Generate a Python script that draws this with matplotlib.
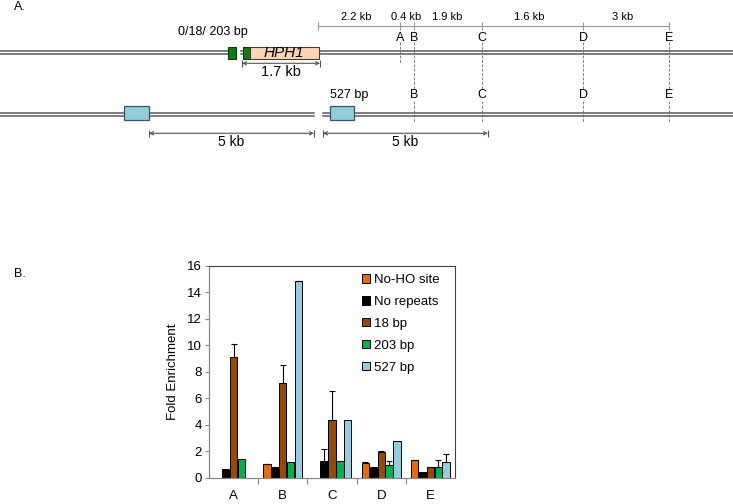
import numpy as np
import matplotlib.pyplot as plt
from matplotlib.patches import Rectangle, Patch

plt.rcParams['font.family'] = ['Liberation Sans', 'DejaVu Sans']

# ── DATA (panel B) ────────────────────────────────────────────
sites  = ["A", "B", "C", "D", "E"]
series = ["No-HO site", "No repeats", "18 bp", "203 bp", "527 bp"]
colors = ["#E46C0A", "#000000", "#984807", "#00B050", "#93CDDD"]
nan = np.nan
no_ho   = [nan, 1.00, nan, 1.13, 1.30]
no_rep  = [0.65, 0.80, 1.26, 0.80, 0.40]
bp18    = [9.10, 7.14, 4.35, 1.94, 0.78]
bp203   = [1.38, 1.18, 1.25, 0.96, 0.80]
bp527   = [nan, 14.85, 4.35, 2.74, 1.18]
err_no_ho  = [0, 0.06, 0, 0.04, 0.03]
err_no_rep = [0, 0, 0.88, 0, 0]
err_18     = [1.00, 1.36, 2.20, 0.10, 0.03]
err_203    = [0, 0, 0, 0.30, 0.55]
err_527    = [0, 0.03, 0, 0, 0.58]

values = [no_ho, no_rep, bp18, bp203, bp527]
errors = [err_no_ho, err_no_rep, err_18, err_203, err_527]

# ── DATA (panel A schematic, pixel layout) ────────────────────
scale_ticks  = [318, 400, 414, 482, 583, 669]
scale_labels = ["2.2 kb", "0.4 kb", "1.9 kb", "1.6 kb", "3 kb"]
scale_lab_x  = [356, 406, 447, 529, 623]
site_x       = [400, 414, 482, 583, 669]

fig = plt.figure(figsize=(7.33, 5.04), dpi=100)

# ── PANEL A ───────────────────────────────────────────────────
sk = fig.add_axes([0, 0, 1, 1])
sk.set_xlim(0, 733)
sk.set_ylim(504, 0)
sk.axis("off")

LINE = "#5a5a5a"
DASH = "#808080"
y1, y2 = 52.7, 114.3


def chrom(x0, x1, y):
    sk.plot([x0, x1], [y - 1.6, y - 1.6], color=LINE, lw=1.1, zorder=2)
    sk.plot([x0, x1], [y + 1.6, y + 1.6], color=LINE, lw=1.1, zorder=2)


def dim_arrow(x0, x1, y, label, ly, fs=10):
    sk.annotate("", xy=(x0, y), xytext=(x1, y),
                arrowprops=dict(arrowstyle="<->", color="#555555", lw=0.8,
                                shrinkA=0, shrinkB=0, mutation_scale=6))
    sk.vlines([x0, x1], y - 3.5, y + 3.5, color="#555555", lw=0.8)
    sk.text((x0 + x1) / 2, ly, label, ha="center", va="center", fontsize=fs)


sk.text(20, 7, "A.", ha="center", va="center", fontsize=9)
sk.text(20, 274, "B.", ha="center", va="center", fontsize=9)

# scale bar
sk.plot([scale_ticks[0], scale_ticks[-1]], [25.7, 25.7], color="#999999", lw=0.8)
sk.vlines(scale_ticks, 22, 30, color="#999999", lw=0.8)
for lab, x in zip(scale_labels, scale_lab_x):
    sk.text(x, 16.7, lab, ha="center", va="center", fontsize=8)

# row 1
chrom(0, 733, y1)
sk.add_patch(Rectangle((236.5, y1 - 3), 2.5, 6, color="white", zorder=3))
sk.add_patch(Rectangle((228, 47.3), 8, 12, fc="#117A1A", ec="#0b3d0b", lw=0.8, zorder=4))
sk.add_patch(Rectangle((242.5, 47.3), 7, 12, fc="#117A1A", ec="#0b3d0b", lw=0.8, zorder=4))
sk.add_patch(Rectangle((249.5, 47.3), 69.5, 12, fc="#FCD5B4", ec="#4a3a30", lw=0.8, zorder=4))
sk.text(284, 53, "HPH1", ha="center", va="center", fontsize=11, style="italic", zorder=5)
sk.text(213, 32, "0/18/ 203 bp", ha="center", va="center", fontsize=9)
dim_arrow(242, 320, 63.3, "1.7 kb", 71.7, fs=10.5)

for s, x in zip(sites, site_x):
    sk.text(x, 37.7, s, ha="center", va="center", fontsize=9)
    if s == "A":
        sk.plot([x, x], [42, 63], color=DASH, lw=0.7, ls=(0, (3, 1.5)))
    else:
        sk.plot([x, x], [42, 89], color=DASH, lw=0.7, ls=(0, (3, 1.5)))
        sk.text(x, 95, s, ha="center", va="center", fontsize=9)
        sk.plot([x, x], [101, 123], color=DASH, lw=0.7, ls=(0, (3, 1.5)))

# row 2
chrom(0, 314, y2)
chrom(323, 733, y2)
sk.add_patch(Rectangle((124, 105.7), 25, 14.3, fc="#92CDDC", ec="#3b5560", lw=0.9, zorder=4))
sk.add_patch(Rectangle((330, 105.7), 24, 14.3, fc="#92CDDC", ec="#3b5560", lw=0.9, zorder=4))
sk.text(349, 95, "527 bp", ha="center", va="center", fontsize=9)
dim_arrow(149, 314, 133.3, "5 kb", 141.7)
dim_arrow(323, 488, 133.3, "5 kb", 141.7)

# ── PANEL B ───────────────────────────────────────────────────
ax = fig.add_axes([209 / 733, 26.3 / 504, 246 / 733, 212 / 504])
x = np.arange(len(sites))
width = 0.15
step = 0.16
for k, (name, vals, errs, col) in enumerate(zip(series, values, errors, colors)):
    pos = x + (k - 2) * step
    v = np.array(vals, dtype=float)
    e = np.array(errs, dtype=float)
    ax.bar(pos, v, width, color=col, edgecolor="black", lw=0.7, label=name, zorder=2)
    m = ~np.isnan(v) & (e > 0)
    ax.errorbar(pos[m], v[m], yerr=[np.zeros(m.sum()), e[m]], fmt="none",
                ecolor="black", elinewidth=0.8, capsize=2.5, capthick=0.8, zorder=3)

ax.set_xlim(-0.5, 4.5)
ax.set_ylim(0, 16)
ax.set_yticks(np.arange(0, 17, 2))
ax.set_xticks(x)
ax.set_xticklabels(sites)
ax.set_xticks(np.arange(0.5, 4.5, 1), minor=True)
ax.tick_params(axis="x", which="major", length=0, pad=9, labelsize=9.5)
ax.tick_params(axis="x", which="minor", length=4, color="#888888", width=0.8)
ax.tick_params(axis="y", length=3, color="#888888", width=0.8, pad=2, labelsize=9.5)
for side in ("left", "bottom"):
    ax.spines[side].set_color("#888888")
    ax.spines[side].set_linewidth(0.9)
for side in ("top", "right"):
    ax.spines[side].set_color("#404040")
    ax.spines[side].set_linewidth(0.8)
ax.set_ylabel("Fold Enrichment", fontsize=9.5, labelpad=6)

handles = [Patch(fc=c, ec="black", lw=0.7) for c in colors]
ax.legend(handles, series, loc="upper left", bbox_to_anchor=(0.6, 0.985),
          frameon=False, fontsize=9.5, handlelength=0.6, handleheight=0.6,
          handletextpad=0.3, labelspacing=0.75, borderaxespad=0)

fig.savefig("out.png", dpi=100)
